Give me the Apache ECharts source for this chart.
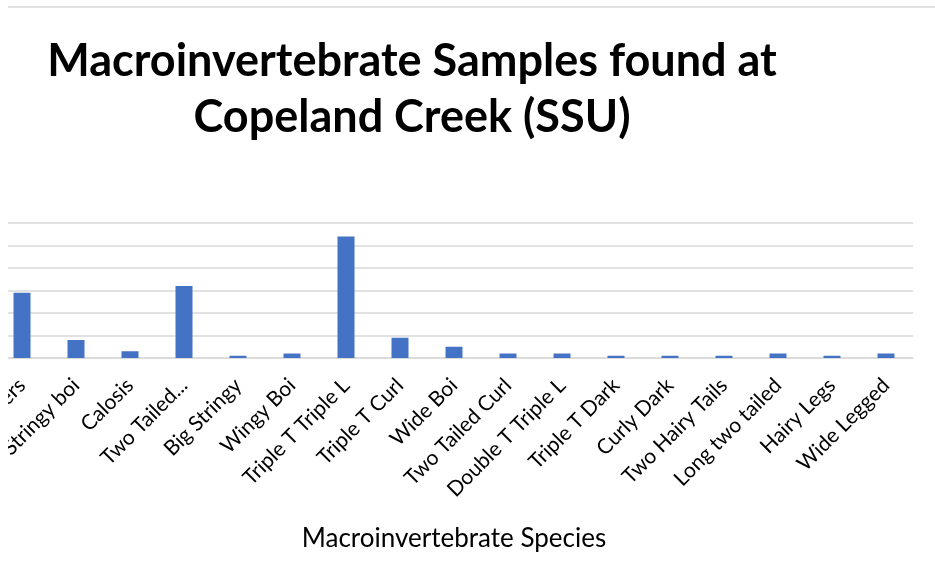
<!DOCTYPE html>
<html>
<head>
<meta charset="utf-8">
<script src="https://cdn.jsdelivr.net/npm/echarts@6/dist/echarts.min.js"></script>
<style>
  html, body { margin: 0; padding: 0; background: #fff; }
  #chart { width: 935px; height: 582px; }
</style>
</head>
<body>
<div id="chart"></div>
<script>
// species names (first two are cut off at the left edge of the picture)
var species = [
  'Clingers', 'Stringy boi', 'Calosis', 'Two Tailed...', 'Big Stringy', 'Wingy Boi',
  'Triple T Triple L', 'Triple T Curl', 'Wide Boi', 'Two Tailed Curl',
  'Double T Triple L', 'Triple T Dark', 'Curly Dark', 'Two Hairy Tails',
  'Long two tailed', 'Hairy Legs', 'Wide Legged'
];
// number of samples found
var counts = [29, 8, 3, 32, 1, 2, 54, 9, 5, 2, 2, 1, 1, 1, 2, 1, 2];

var font = 'Lato, "Open Sans", sans-serif';
var chart = echarts.init(document.getElementById('chart'));

var option = {
  animation: false,
  backgroundColor: '#fff',
  title: {
    text: 'Macroinvertebrate Samples found at\nCopeland Creek (SSU)',
    left: 407,
    top: 28,
    textAlign: 'center',
    textStyle: {
      fontFamily: font,
      fontWeight: 'bold',
      fontSize: 45,
      lineHeight: 56,
      color: '#000'
    }
  },
  grid: { left: -5, right: 22, top: 223, bottom: 224, containLabel: false, outerBoundsMode: 'none' },
  xAxis: {
    type: 'category',
    data: species,
    name: 'Macroinvertebrate Species',
    nameLocation: 'middle',
    nameGap: 168,
    nameTextStyle: { fontFamily: font, fontSize: 26, color: '#000' },
    axisLine: { lineStyle: { color: '#d9d9d9', width: 1.5 } },
    axisTick: { show: false },
    axisLabel: {
      interval: 0,
      rotate: 45,
      margin: 24,
      fontFamily: font,
      fontSize: 21,
      color: '#000'
    }
  },
  yAxis: {
    type: 'value',
    min: 0,
    max: 60,
    interval: 10,
    axisLabel: { show: false },
    axisLine: { show: false },
    axisTick: { show: false },
    splitLine: { lineStyle: { color: '#d9d9d9', width: 1.5 } }
  },
  series: [{
    type: 'bar',
    data: counts,
    barWidth: 17,
    itemStyle: { color: '#4472c4' }
  }],
  graphic: [
    // left edge of the crop
    { type: 'rect', left: 0, top: 0, z: 100, shape: { width: 8, height: 582 }, style: { fill: '#fff' } },
    { type: 'line', z: 100, shape: { x1: 8, y1: 7, x2: 935, y2: 7 }, style: { stroke: '#d9d9d9', lineWidth: 1.5 } }
  ]
};

chart.setOption(option);
</script>
</body>
</html>
